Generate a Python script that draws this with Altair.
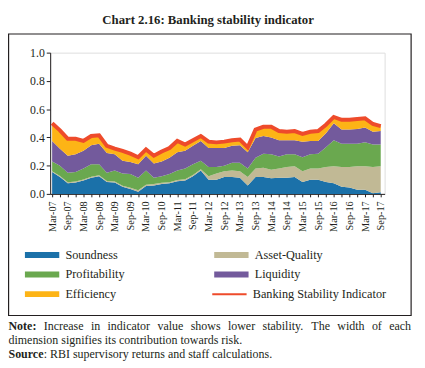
import altair as alt
import pandas as pd

quarters = ["Mar-07", "Jun-07", "Sep-07", "Dec-07", "Mar-08", "Jun-08", "Sep-08", "Dec-08",
            "Mar-09", "Jun-09", "Sep-09", "Dec-09", "Mar-10", "Jun-10", "Sep-10", "Dec-10",
            "Mar-11", "Jun-11", "Sep-11", "Dec-11", "Mar-12", "Jun-12", "Sep-12", "Dec-12",
            "Mar-13", "Jun-13", "Sep-13", "Dec-13", "Mar-14", "Jun-14", "Sep-14", "Dec-14",
            "Mar-15", "Jun-15", "Sep-15", "Dec-15", "Mar-16", "Jun-16", "Sep-16", "Dec-16",
            "Mar-17", "Jun-17", "Sep-17"]

soundness = [0.155, 0.12, 0.075, 0.08, 0.095, 0.115, 0.125, 0.085, 0.08, 0.05,
             0.035, 0.015, 0.055, 0.06, 0.07, 0.075, 0.09, 0.095, 0.125, 0.165,
             0.10, 0.10, 0.12, 0.12, 0.115, 0.06, 0.12, 0.12, 0.11, 0.115,
             0.115, 0.12, 0.085, 0.10, 0.10, 0.085, 0.075, 0.05, 0.045, 0.03,
             0.03, 0.005, 0.012]
asset_quality = [0.005, 0.007, 0.007, 0.007, 0.007, 0.007, 0.007, 0.007, 0.007, 0.007,
                 0.008, 0.01, 0.01, 0.01, 0.008, 0.008, 0.008, 0.008, 0.008, 0.01,
                 0.025, 0.045, 0.04, 0.045, 0.045, 0.06, 0.06, 0.065, 0.06, 0.065,
                 0.075, 0.075, 0.075, 0.08, 0.08, 0.105, 0.12, 0.14, 0.145, 0.165,
                 0.165, 0.185, 0.183]
profitability = [0.07, 0.073, 0.068, 0.068, 0.078, 0.088, 0.078, 0.058, 0.078, 0.088,
                 0.097, 0.09, 0.10, 0.045, 0.047, 0.057, 0.067, 0.077, 0.077, 0.06,
                 0.065, 0.045, 0.04, 0.055, 0.06, 0.06, 0.075, 0.10, 0.11, 0.085,
                 0.09, 0.085, 0.10, 0.10, 0.105, 0.14, 0.185, 0.165, 0.165, 0.16,
                 0.17, 0.16, 0.155]
liquidity = [0.145, 0.12, 0.12, 0.125, 0.125, 0.135, 0.145, 0.14, 0.115, 0.09,
             0.085, 0.095, 0.105, 0.10, 0.105, 0.115, 0.13, 0.125, 0.13, 0.14,
             0.135, 0.135, 0.125, 0.12, 0.125, 0.115, 0.14, 0.125, 0.12, 0.115,
             0.10, 0.10, 0.11, 0.095, 0.09, 0.10, 0.12, 0.10, 0.10, 0.105,
             0.105, 0.09, 0.095]
efficiency = [0.125, 0.13, 0.12, 0.11, 0.07, 0.065, 0.06, 0.05, 0.04, 0.07,
              0.06, 0.05, 0.045, 0.055, 0.07, 0.07, 0.08, 0.045, 0.04, 0.035,
              0.045, 0.04, 0.045, 0.04, 0.04, 0.035, 0.06, 0.065, 0.075, 0.065,
              0.06, 0.065, 0.055, 0.065, 0.07, 0.06, 0.045, 0.07, 0.07, 0.07,
              0.065, 0.055, 0.035]
bsi = [0.50, 0.45, 0.39, 0.39, 0.375, 0.41, 0.415, 0.34, 0.32, 0.305,
       0.285, 0.26, 0.315, 0.27, 0.30, 0.325, 0.375, 0.35, 0.38, 0.41,
       0.37, 0.365, 0.37, 0.38, 0.385, 0.33, 0.455, 0.475, 0.475, 0.445,
       0.44, 0.445, 0.425, 0.44, 0.445, 0.49, 0.545, 0.525, 0.525, 0.53,
       0.535, 0.495, 0.48]

series_names = ["Soundness", "Asset-Quality", "Profitability", "Liquidity", "Efficiency"]
series_colors = ["#1b71a9", "#c1b995", "#6aa84f", "#735a9c", "#fdb416"]
bsi_name = "Banking Stability Indicator"
bsi_color = "#ee4b2b"

title_text = "Chart 2.16: Banking stability indicator"
note_words = ["Increase", "in", "indicator", "value", "shows", "lower", "stability.",
              "The", "width", "of", "each"]
note_line2 = "dimension signifies its contribution towards risk."
source_rest = ": RBI supervisory returns and staff calculations."

FONT = "Liberation Serif"
INK = "#231f20"

rows = []
for k, (name, vals) in enumerate(zip(series_names,
                                     [soundness, asset_quality, profitability, liquidity, efficiency])):
    for i, v in enumerate(vals):
        rows.append({"i": i, "q": quarters[i], "series": name, "ord": k, "value": v})
df = pd.DataFrame(rows)
line_df = pd.DataFrame({"i": list(range(len(bsi))), "q": quarters, "bsi": bsi,
                        "name": [bsi_name] * len(bsi)})

W, H = 341, 144
xscale = alt.Scale(domain=[-0.25, 42.5], nice=False, zero=False)
yscale = alt.Scale(domain=[0, 1], nice=False)

arr = "[" + ",".join("'" + q + "'" for q in quarters) + "]"
x_axis = alt.Axis(values=list(range(len(quarters))),
                  labelExpr="datum.value % 2 == 0 ? " + arr + "[datum.value] : ''",
                  labelAngle=270, labelOverlap=False, tickSize=3, labelPadding=4,
                  labelFont=FONT, labelFontSize=10.5, labelColor=INK,
                  domainColor=INK, tickColor=INK, grid=False, title=None)
y_axis = alt.Axis(values=[0, 0.2, 0.4, 0.6, 0.8, 1.0], format=".1f", tickSize=4,
                  labelPadding=2, labelFont=FONT, labelFontSize=12, labelColor=INK,
                  domainColor=INK, tickColor=INK, grid=False, title=None)

rect_path = "M-1,-1L10.67,-1L10.67,1L-1,1Z"
line_path = "M-1,0L10.67,0"

areas = alt.Chart(df).mark_area(opacity=1, interpolate="linear").encode(
    x=alt.X("i:Q", scale=xscale, axis=x_axis),
    y=alt.Y("value:Q", stack="zero", scale=yscale, axis=y_axis),
    color=alt.Color("series:N",
                    scale=alt.Scale(domain=series_names, range=series_colors),
                    legend=alt.Legend(orient="none", legendX=-29, legendY=200,
                                      direction="horizontal", columns=2, columnPadding=88,
                                      rowPadding=7, padding=0, title=None,
                                      symbolType=rect_path, symbolSize=36,
                                      symbolStrokeWidth=0, symbolOpacity=1,
                                      labelOffset=32, labelFont=FONT, labelFontSize=12.5,
                                      labelColor=INK, labelLimit=300)),
    order=alt.Order("ord:Q"),
)

line = alt.Chart(line_df).mark_line(strokeWidth=4, interpolate="linear").encode(
    x=alt.X("i:Q", scale=xscale, axis=x_axis),
    y=alt.Y("bsi:Q", scale=yscale, axis=y_axis),
    stroke=alt.Stroke("name:N", scale=alt.Scale(domain=[bsi_name], range=[bsi_color]),
                      legend=alt.Legend(orient="none", legendX=162, legendY=240, padding=0,
                                        title=None, symbolType=line_path, symbolSize=36,
                                        symbolStrokeWidth=2, labelOffset=32,
                                        labelFont=FONT, labelFontSize=12.5,
                                        labelColor=INK, labelLimit=300)),
)

frame = alt.Chart(pd.DataFrame({"a": [0]})).mark_rect(
    fillOpacity=0, stroke=INK, strokeWidth=1.2).encode(
    x=alt.value(-42.4), x2=alt.value(368), y=alt.value(-19), y2=alt.value(268))

# annotation texts (pixel positions relative to plot area)
times = {" ": 250, "a": 444, "b": 500, "c": 444, "d": 500, "e": 444, "f": 333, "g": 500,
         "h": 500, "i": 278, "j": 278, "k": 500, "l": 278, "m": 778, "n": 500, "o": 500,
         "p": 500, "q": 500, "r": 333, "s": 389, "t": 278, "u": 500, "v": 500, "w": 722,
         "x": 500, "y": 500, "z": 444, ".": 250, ":": 278, "I": 333, "T": 611}
NFS = 12.2


def tw(s, fs):
    return sum(times.get(c, 500) for c in s) / 1000 * fs


note_bold_w = (722 + 500 + 333 + 444 + 333) / 1000 * NFS
left, right = -42.5, 368
ws = [tw(w, NFS) for w in note_words]
start = left + note_bold_w
gap = (right - start - sum(ws)) / len(ws)
ann = [{"t": "Note:", "x": left, "y": 283, "w": "bold"}]
xx = start + gap
for w, wd in zip(note_words, ws):
    ann.append({"t": w, "x": xx, "y": 283, "w": "normal"})
    xx += wd + gap
ann.append({"t": note_line2, "x": left, "y": 297, "w": "normal"})
ann.append({"t": "Source", "x": left, "y": 311, "w": "bold"})
src_w = (556 + 500 + 556 + 444 + 444 + 444) / 1000 * NFS
ann.append({"t": source_rest, "x": left + src_w, "y": 311, "w": "normal"})
ann_df = pd.DataFrame(ann)

notes_bold = alt.Chart(ann_df[ann_df.w == "bold"]).mark_text(
    font=FONT, fontSize=NFS, fontWeight="bold", color=INK, align="left",
    baseline="alphabetic").encode(
    x=alt.X("x:Q", scale=None), y=alt.Y("y:Q", scale=None), text="t:N")
notes_norm = alt.Chart(ann_df[ann_df.w == "normal"]).mark_text(
    font=FONT, fontSize=NFS, color=INK, align="left", baseline="alphabetic").encode(
    x=alt.X("x:Q", scale=None), y=alt.Y("y:Q", scale=None), text="t:N")

title = alt.Chart(pd.DataFrame({"t": [title_text]})).mark_text(
    font=FONT, fontSize=13, fontWeight="bold", color=INK, align="center",
    baseline="alphabetic").encode(x=alt.value(161), y=alt.value(-29), text="t:N")

chart = alt.layer(areas, line, frame, notes_bold, notes_norm, title).resolve_scale(
    color="independent", stroke="independent").properties(
    width=W, height=H,
    autosize=alt.AutoSizeParams(type="none"),
    padding={"left": 43, "top": 42, "right": 33, "bottom": 174},
).configure_view(stroke=None).configure(background="white")

chart.save("out.html", embed_options={"renderer": "svg", "actions": False})
